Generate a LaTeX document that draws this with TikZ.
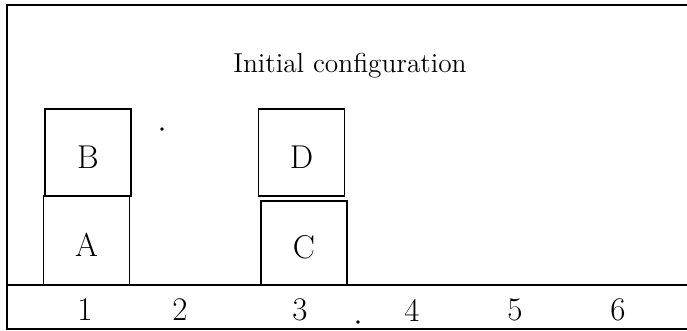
\documentclass[tikz,border=0pt]{standalone}
\usepackage{tikz}
\usetikzlibrary{positioning}

\begin{document}
\begin{tikzpicture}[
  x=0.5pt, y=-0.5pt,
  frame/.style = { line width=0.8pt, draw=black },
  block/.style = {
    draw, line width=0.8pt, inner sep=0pt,
    minimum width=43pt, minimum height=43.5pt,
    text height=16pt, text depth=0pt,
    font=\fontsize{16.5}{19}\selectfont
  },
  slot/.style  = { inner sep=0pt, font=\fontsize{16.5}{19}\selectfont },
  title/.style = { inner sep=0pt, font=\fontsize{13.7}{16}\selectfont }
]
\useasboundingbox (0,0) rectangle (687,331);

% frame and table
\coordinate (tl) at (7,5);
\coordinate (bl) at (7,329);
\draw[frame] (687,5) -- (tl) -- (bl) -- (687,329);
\draw[frame] (7,285) -- (687,285);

\node[title] (caption) at (350,66) {Initial configuration};

% stacks
\node[block, minimum height=44.5pt] (blockA) at (86.5,240.5) {A};
\node[block] (blockB) at (88,152.5) {B};
\node[block, minimum height=42pt] (blockC) at (304,243) {C};
\node[block] (blockD) at (301.5,152.5) {D};

% positions on the table
\foreach \n/\x in {1/85,2/180,3/300,4/412,5/515,6/618}
  \node[slot] (slot\n) at (\x,310) {\n};

% specks
\fill (162,129) circle (0.9pt);
\fill (358,322) circle (0.9pt);

\end{tikzpicture}
\end{document}
